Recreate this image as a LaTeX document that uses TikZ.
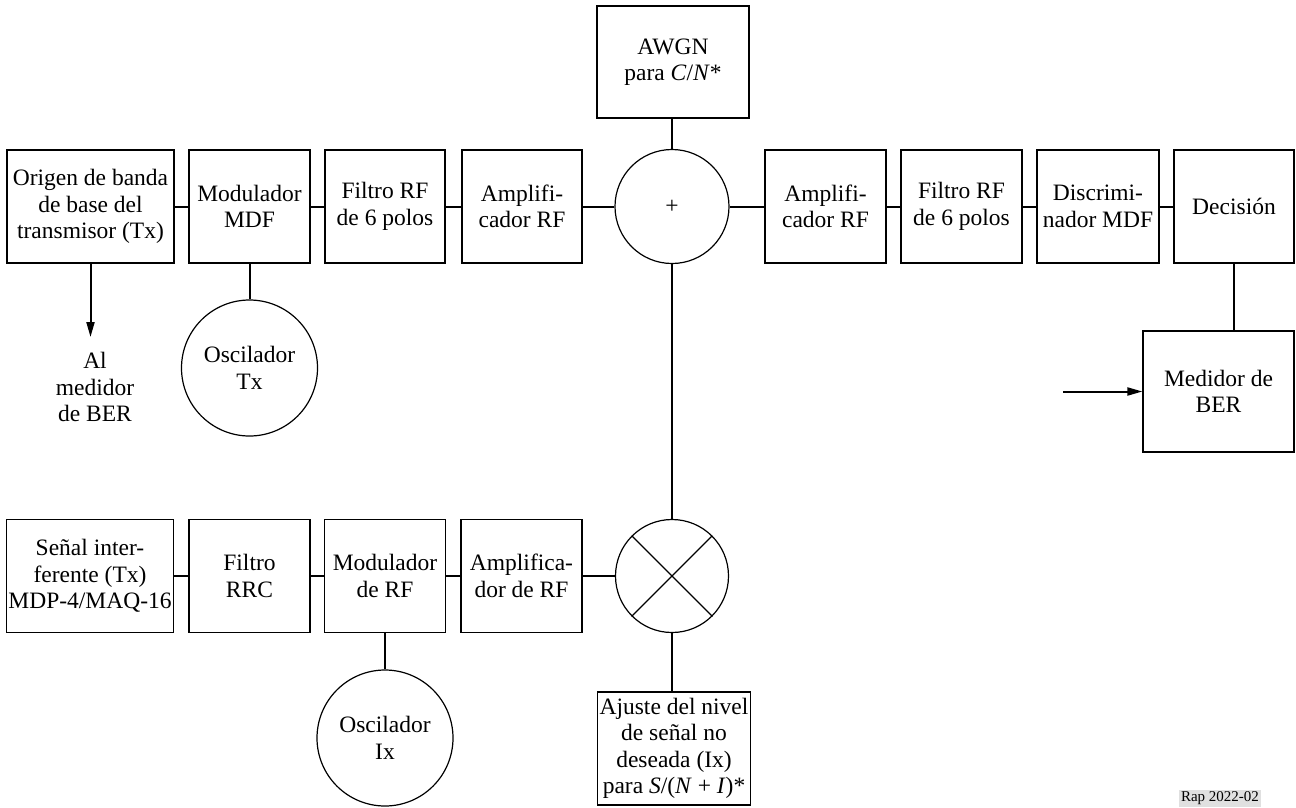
\documentclass[tikz,border=0pt]{standalone}
\usepackage{fontspec}
\setmainfont{Liberation Serif}
\usetikzlibrary{arrows.meta}

\tikzset{
  lbl/.style={font=\fontsize{23.5}{26.5}\selectfont, align=center, inner sep=2pt},
  blk/.style={lbl, draw, line width=1.2pt, rectangle, minimum height=113pt},
  circ/.style={lbl, draw, line width=1.2pt, circle},
  wire/.style={line width=2pt},
  arr/.style={wire, -{Triangle[length=15pt,width=8pt]}},
}

\begin{document}
\begin{tikzpicture}[x=1pt, y=-1pt]
\useasboundingbox (0,0) rectangle (1296,807);

% upper chain: wanted FM signal
\node[blk, minimum width=167pt] (b1) at (90.5,206.5) {Origen de banda\\de base del\\transmisor (Tx)};
\node[blk, minimum width=121pt] (b2) at (249.5,206.5) {Modulador\\MDF};
\node[blk, minimum width=120pt] (b3) at (385,206.5) {Filtro RF\\de 6 polos};
\node[blk, minimum width=120pt] (b4) at (522,206.5) {Amplifi-\\cador RF};
\node[circ, minimum size=114pt] (sum) at (672,206.5) {+};
\node[blk, minimum width=121pt] (b5) at (825.5,206.5) {Amplifi-\\cador RF};
\node[blk, minimum width=121pt] (b6) at (961.5,206.5) {Filtro RF\\de 6 polos};
\node[blk, minimum width=122pt] (b7) at (1098,206.5) {Discrimi-\\nador MDF};
\node[blk, minimum width=120pt] (b8) at (1234,206.5) {Decisión};

\node[blk, minimum width=152pt, minimum height=112pt] (awgn) at (673,62) {AWGN\\para \textit{C}/\textit{N}*};
\node[blk, minimum width=151pt, minimum height=121pt] (ber) at (1218.5,391.5) {Medidor de\\BER};
\coordinate (berin) at (1063,391.5);

\node[circ, minimum size=136pt] (osctx) at (249.5,368) {Oscilador\\Tx};
\coordinate (alm) at (90.5,337);
\node[lbl] (almtxt) at (95,387) {Al\\medidor\\de BER};

% lower chain: interfering signal
\node[blk, minimum width=166pt] (c1) at (90,576) {Señal inter-\\ferente (Tx)\\MDP-4/MAQ-16};
\node[blk, minimum width=121pt] (c2) at (249.5,576) {Filtro\\RRC};
\node[blk, minimum width=121pt] (c3) at (385,576) {Modulador\\de RF};
\node[blk, minimum width=121pt] (c4) at (521.5,576) {Amplifica-\\dor de RF};
\node[circ, minimum size=113pt] (mix) at (672,576) {};
\node[circ, minimum size=136pt] (oscix) at (385,738) {Oscilador\\Ix};
\node[blk, minimum width=152pt] (adj) at (674,748.5) {Ajuste del nivel\\de señal no\\deseada (Ix)\\para \textit{S}/(\textit{N} + \textit{I})*};

% attenuator cross
\draw[line width=1.2pt] (mix.north west) -- (mix.south east);
\draw[line width=1.2pt] (mix.north east) -- (mix.south west);

% connections, upper chain
\draw[wire] (b1.east) -- (b2.west);
\draw[wire] (b2.east) -- (b3.west);
\draw[wire] (b3.east) -- (b4.west);
\draw[wire] (b4.east) -- (sum.west);
\draw[wire] (sum.east) -- (b5.west);
\draw[wire] (b5.east) -- (b6.west);
\draw[wire] (b6.east) -- (b7.west);
\draw[wire] (b7.east) -- (b8.west);
\draw[wire] (awgn.south -| sum.north) -- (sum.north);
\draw[wire] (b2.south) -- (osctx.north);
\draw[arr] (b1.south) -- (alm);
\draw[wire] (b8.south) -- (b8.south |- ber.north);
\draw[arr] (berin) -- (ber.west);

% connections, lower chain
\draw[wire] (c1.east) -- (c2.west);
\draw[wire] (c2.east) -- (c3.west);
\draw[wire] (c3.east) -- (c4.west);
\draw[wire] (c4.east) -- (mix.west);
\draw[wire] (c3.south) -- (oscix.north);
\draw[wire] (mix.south) -- (mix.south |- adj.north);
\draw[wire] (sum.south) -- (mix.north);

% figure reference
\node[fill=black!12, inner sep=2pt, anchor=south, font=\fontsize{15}{17}\selectfont] (ref) at (1220,807) {Rap 2022-02};
\end{tikzpicture}
\end{document}
